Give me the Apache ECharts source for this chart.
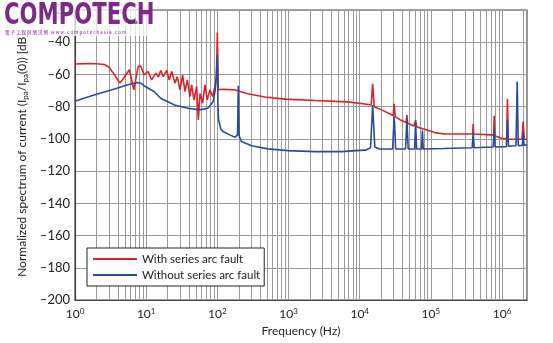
<!DOCTYPE html>
<html>
<head>
<meta charset="utf-8">
<script src="https://cdn.jsdelivr.net/npm/echarts@6/dist/echarts.min.js"></script>
<style>
  html, body { margin: 0; padding: 0; background: #fff; }
  #chart { width: 553px; height: 343px; }
</style>
</head>
<body>
<div id="chart"></div>
<script>
// Spectrum with a series arc fault (frequency in Hz, level in dB)
const freqWith = [1, 1.5, 2, 2.6, 3.0, 3.5, 4.0, 4.3, 5.0, 5.8, 6.7, 7.7, 8.4, 9.3, 10.7, 11.9, 13.7, 14.8, 16, 17.4,
  19.4, 21.1, 22.8, 25.4, 27.4, 29.8, 32.5, 35.1, 37.8, 41.2, 43.5, 46.9, 51.2, 54, 57, 62.1, 67, 72.1, 78.7, 85.9,
  92.5, 97, 100, 103, 108, 120, 177, 268, 465, 890, 2360, 6800, 11800, 14500, 15200, 16000, 20300, 29500, 30500, 31500,
  38000, 45000, 46000, 47000, 58000, 61000, 63000, 73000, 113000, 155000, 330000, 385000, 393000, 400000, 700000, 760000,
  775000, 790000, 970000, 1160000, 1190000, 1220000, 1500000, 1900000, 1980000, 2050000, 2240000];
const levelWith = [-53.5, -53.3, -53.4, -53.8, -55.5, -59.5, -63.5, -65.4, -61.3, -57.1, -69.6, -55.1, -54.7, -60.2, -58.2, -63.4, -59.2, -61.5, -57.5, -61.3,
  -57.5, -63.4, -58.2, -65.4, -61.3, -69.6, -60.2, -70.6, -63.4, -73.7, -66.5, -75.8, -67.5, -88.2, -71.9, -77.8, -66.5, -75.8, -69.6, -73.7,
  -67.5, -62, -34, -69.5, -69.6, -69.2, -69.6, -72, -74, -75.3, -76.2, -77, -78.3, -79, -65.8, -80, -82, -85.5, -78.3, -86.2,
  -88.5, -89.8, -85, -90.3, -92, -88.2, -92.5, -93.4, -96.1, -97, -97, -97, -90.7, -97, -97.5, -97.8,
  -85.7, -98, -99.6, -100, -75.3, -100.2, -100.2, -100.2, -89.3, -100.2, -100.2];

// Spectrum without a series arc fault
const freqWithout = [1, 1.3, 1.85, 2.5, 3.5, 5.4, 7.4, 8.5, 9.3, 12.9, 16, 25, 38.6, 56, 73.6, 87, 93, 97, 100, 102,
  104, 112, 120, 150, 177, 192, 197, 202, 218, 303, 514, 975, 2360, 5600, 8700, 12000, 14200, 15200, 16300, 19000,
  29000, 30500, 32000, 44000, 46000, 48000, 59000, 61000, 63000, 74000, 76000, 78000, 150000, 380000, 393000, 406000,
  750000, 775000, 800000, 1150000, 1190000, 1230000, 1570000, 1630000, 1690000, 1930000, 1980000, 2030000, 2240000];
const levelWithout = [-76.7, -75, -72.7, -71, -69.2, -66.5, -65, -65.5, -67, -70.6, -74.8, -79, -81, -82, -81, -77, -70, -60, -48, -80,
  -88, -94, -95.4, -97.5, -99, -97.5, -67, -98, -101.6, -104.3, -106.2, -107.3, -107.9, -107.9, -107.3, -107, -105.5, -79, -105, -106.3,
  -106.3, -86, -106.3, -106.3, -88, -106.3, -106.3, -90, -106.3, -106.3, -94.8, -106.3, -106, -105.5, -96, -105.5,
  -105, -94, -105, -104.8, -88, -104.5, -104.3, -64.4, -104.2, -104, -96, -104, -103.7];

const seriesNames = ['With series arc fault', 'Without series arc fault'];
const yTicks = [-200, -180, -160, -140, -120, -100, -80, -60, -40, -20];

const FREQ_MIN = 1, FREQ_MAX = 2240000;

// minor log grid lines: 2..9 within each decade
const minorGrid = [];
for (let d = 1; d < FREQ_MAX; d *= 10) {
  for (let k = 2; k <= 9; k++) {
    if (d * k < FREQ_MAX) minorGrid.push({ xAxis: d * k });
  }
}

const zip = (xs, ys) => xs.map((x, i) => [x, ys[i]]);
const FONT = 'Lato, "DejaVu Sans", sans-serif';

const chart = echarts.init(document.getElementById('chart'), null, { renderer: 'canvas' });
chart.setOption({
  animation: false,
  backgroundColor: '#fff',
  grid: { left: 75, top: 10, right: 26, bottom: 43, show: true, borderColor: '#444', borderWidth: 1.2 },
  xAxis: {
    type: 'log',
    logBase: 10,
    min: FREQ_MIN,
    max: FREQ_MAX,
    name: 'Frequency (Hz)',
    nameLocation: 'middle',
    nameGap: 21,
    nameTextStyle: { fontFamily: FONT, fontSize: 12, color: '#222' },
    axisLine: { lineStyle: { color: '#444', width: 1.2 } },
    axisTick: { show: false },
    splitLine: { show: true, lineStyle: { color: '#9a9a9a', width: 1 } },
    axisLabel: {
      margin: 7,
      fontFamily: FONT,
      fontSize: 12,
      color: '#222',
      formatter: function (v) {
        const l = Math.log10(v);
        const e = Math.round(l);
        if (Math.abs(l - e) > 1e-6) return '';
        return '10{s|' + e + '}';
      },
      rich: { s: { fontFamily: FONT, fontSize: 8, color: '#222', verticalAlign: 'top', padding: [0, 0, 6, 0] } }
    }
  },
  yAxis: {
    type: 'value',
    min: -200,
    max: -20,
    interval: 20,
    name: 'Normalized spectrum of current (I{sub|pa}/I{sub|pa}(0)) [dB]',
    nameLocation: 'middle',
    nameGap: 40,
    nameRotate: 90,
    nameTextStyle: {
      fontFamily: FONT, fontSize: 12, color: '#222',
      rich: { sub: { fontFamily: FONT, fontSize: 8, color: '#222', verticalAlign: 'bottom', padding: [5, 0, 0, 0] } }
    },
    axisLine: { show: true, lineStyle: { color: '#444', width: 1.2 } },
    axisTick: { show: false },
    splitLine: { show: true, lineStyle: { color: '#9a9a9a', width: 1 } },
    axisLabel: {
      margin: 5,
      fontFamily: FONT,
      fontSize: 13,
      color: '#222',
      customValues: yTicks,
      formatter: v => String(v).replace('-', '\u2013')
    }
  },
  legend: {
    left: 87,
    top: 248,
    z: 20,
    orient: 'vertical',
    backgroundColor: '#fff',
    borderColor: '#222',
    borderWidth: 1,
    padding: [5, 4, 5, 6],
    itemGap: 4,
    itemWidth: 44,
    itemHeight: 2,
    icon: 'rect',
    textStyle: { fontFamily: FONT, fontSize: 11.5, color: '#222' },
    data: seriesNames
  },
  series: [
    {
      name: 'minor-grid',
      type: 'line',
      data: [],
      silent: true,
      z: 0,
      markLine: {
        silent: true,
        symbol: 'none',
        z: 0,
        label: { show: false },
        lineStyle: { color: '#9a9a9a', width: 1, type: 'solid' },
        data: minorGrid
      }
    },
    {
      name: seriesNames[0],
      type: 'line',
      data: zip(freqWith, levelWith),
      showSymbol: false,
      lineStyle: { color: '#d8232a', width: 1.6 },
      itemStyle: { color: '#d8232a' },
      z: 3
    },
    {
      name: seriesNames[1],
      type: 'line',
      data: zip(freqWithout, levelWithout),
      showSymbol: false,
      lineStyle: { color: '#2c4a9a', width: 1.6 },
      itemStyle: { color: '#2c4a9a' },
      z: 4
    }
  ],
  graphic: [
    {
      type: 'rect',
      left: 0, top: 0, z: 90,
      shape: { width: 150, height: 36 },
      style: { fill: 'rgba(255,255,255,0.75)' }
    },
    {
      type: 'text',
      left: 4, top: 0, z: 100,
      scaleX: 0.76,
      style: {
        text: 'COMPOTECH',
        fontFamily: '"DejaVu Sans Condensed", "DejaVu Sans", sans-serif',
        fontWeight: 'bold',
        fontSize: 31,
        fill: '#7b2b85'
      }
    },
    {
      type: 'text',
      left: 128, top: 20, z: 100,
      style: { text: 'Asia', fontFamily: FONT, fontWeight: 'bold', fontSize: 5, fill: '#333' }
    },
    {
      type: 'text',
      left: 5, top: 30, z: 100,
      style: {
        text: '電 子 工 程 與 網 訊 網   w w w . c o m p o t e c h a s i a . c o m',
        fontFamily: '"Noto Sans CJK TC", sans-serif',
        fontSize: 4.5,
        fill: '#7b2b85'
      }
    }
  ]
});
</script>
</body>
</html>
